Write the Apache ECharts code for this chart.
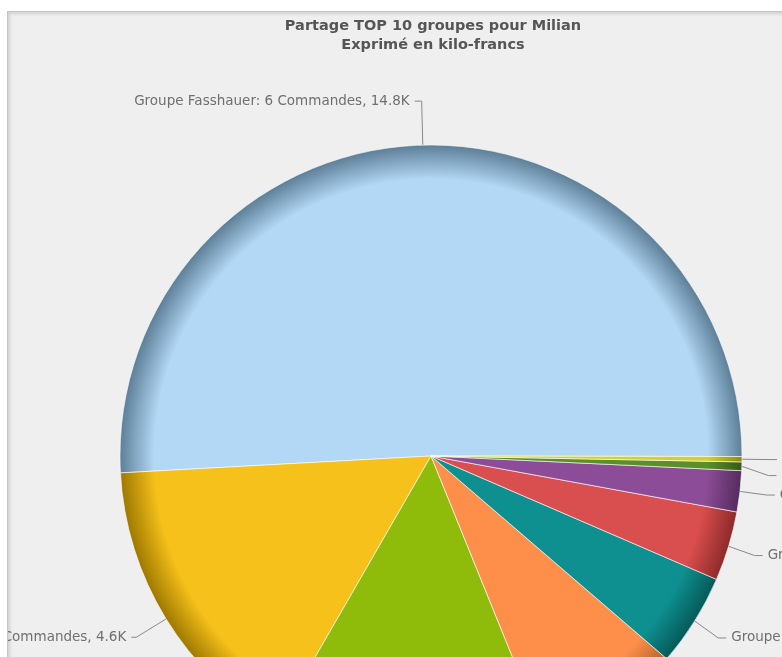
<!DOCTYPE html>
<html>
<head>
    <meta charset="UTF-8">
    <title>Partage TOP 10 groupes pour Milian</title>
    <script src="https://cdn.jsdelivr.net/npm/echarts@6/dist/echarts.min.js"></script>
    <style>
        * { padding: 0; margin: 0; }
        body { background: #fff; width: 782px; height: 657px; overflow: hidden; position: relative; }
        #panel {
            position: absolute; left: 7px; top: 11px; width: 1000px; height: 1000px;
            background: #efefef; border-left: 1px solid #c6c6c6; border-top: 1px solid #c6c6c6;
            box-shadow: inset 2px 2px 3px rgba(0,0,0,0.12); overflow: hidden;
        }
        #chart { position: absolute; left: -300px; top: -12px; width: 1400px; height: 1100px; }
    </style>
</head>
<body>
    <div id="panel"><div id="chart"></div></div>

<script>
    // donnees (kilo-francs)
    var groupes = ['Groupe Fasshauer', 'Groupe Brunner', 'Groupe Keller', 'Groupe Meier', 'Groupe Huber',
                   'Groupe Weber', 'Groupe Frei', 'Groupe Moser', 'Groupe Steiner'];
    var commandes = [6, 3, 4, 2, 2, 1, 1, 1, 1];
    var valeurs = [14.8, 4.6, 4.2, 2.2, 1.4, 1.05, 0.62, 0.13, 0.08];
    var couleurs = ['#b3d8f5', '#f6c11a', '#8fbc0a', '#fd8f4b', '#0f9090', '#d94e4e', '#8d4c97', '#5b8f2a', '#cfd12e'];
    var bords = ['#5d7f98', '#9e7800', '#5a7a00', '#b4602a', '#055a5a', '#8e2a2a', '#552c5e', '#365a15', '#8a8a10'];

    var cx = 723, cy = 456, rayon = 311;

    var data = [];
    for (var i = 0; i < valeurs.length; i++) {
        var item = {
            name: groupes[i],
            value: valeurs[i],
            commandes: commandes[i],
            itemStyle: {
                color: {
                    type: 'radial', x: cx, y: cy, r: rayon, global: true,
                    colorStops: [
                        { offset: 0, color: couleurs[i] },
                        { offset: 0.89, color: couleurs[i] },
                        { offset: 1, color: bords[i] }
                    ]
                }
            }
        };
        if (i == 0) {
            item.labelLine = { length: 44, length2: 7 };
        }
        if (i == 1) {
            item.labelLine = { length: 35, length2: 5 };
        }
        data.push(item);
    }

    var myChart = echarts.init(document.getElementById('chart'));
    var option = {
        animation: false,
        title: {
            text: 'Partage TOP 10 groupes pour Milian',
            subtext: 'Exprimé en kilo-francs',
            left: cx - 3,
            top: 14,
            textAlign: 'center',
            itemGap: 4,
            textStyle: { fontFamily: 'DejaVu Sans', fontSize: 14.5, fontWeight: 'bold', color: '#555' },
            subtextStyle: { fontFamily: 'DejaVu Sans', fontSize: 14.5, fontWeight: 'bold', color: '#555' }
        },
        series: [{
            type: 'pie',
            center: [cx, cy],
            radius: rayon,
            clockwise: false,
            startAngle: -0.1,
            itemStyle: { borderColor: 'rgba(255,255,255,0.6)', borderWidth: 1 },
            label: {
                show: true,
                overflow: 'none',
                fontFamily: 'DejaVu Sans',
                fontSize: 13.5,
                color: '#6f6f6f',
                formatter: function (p) {
                    return p.name + ': ' + p.data.commandes + ' Commandes, ' + p.value.toFixed(1) + 'K';
                }
            },
            labelLine: { length: 32, length2: 8, lineStyle: { color: '#888', width: 1 } },
            emphasis: { disabled: true },
            data: data
        }]
    };
    myChart.setOption(option);
</script>
</body>
</html>
